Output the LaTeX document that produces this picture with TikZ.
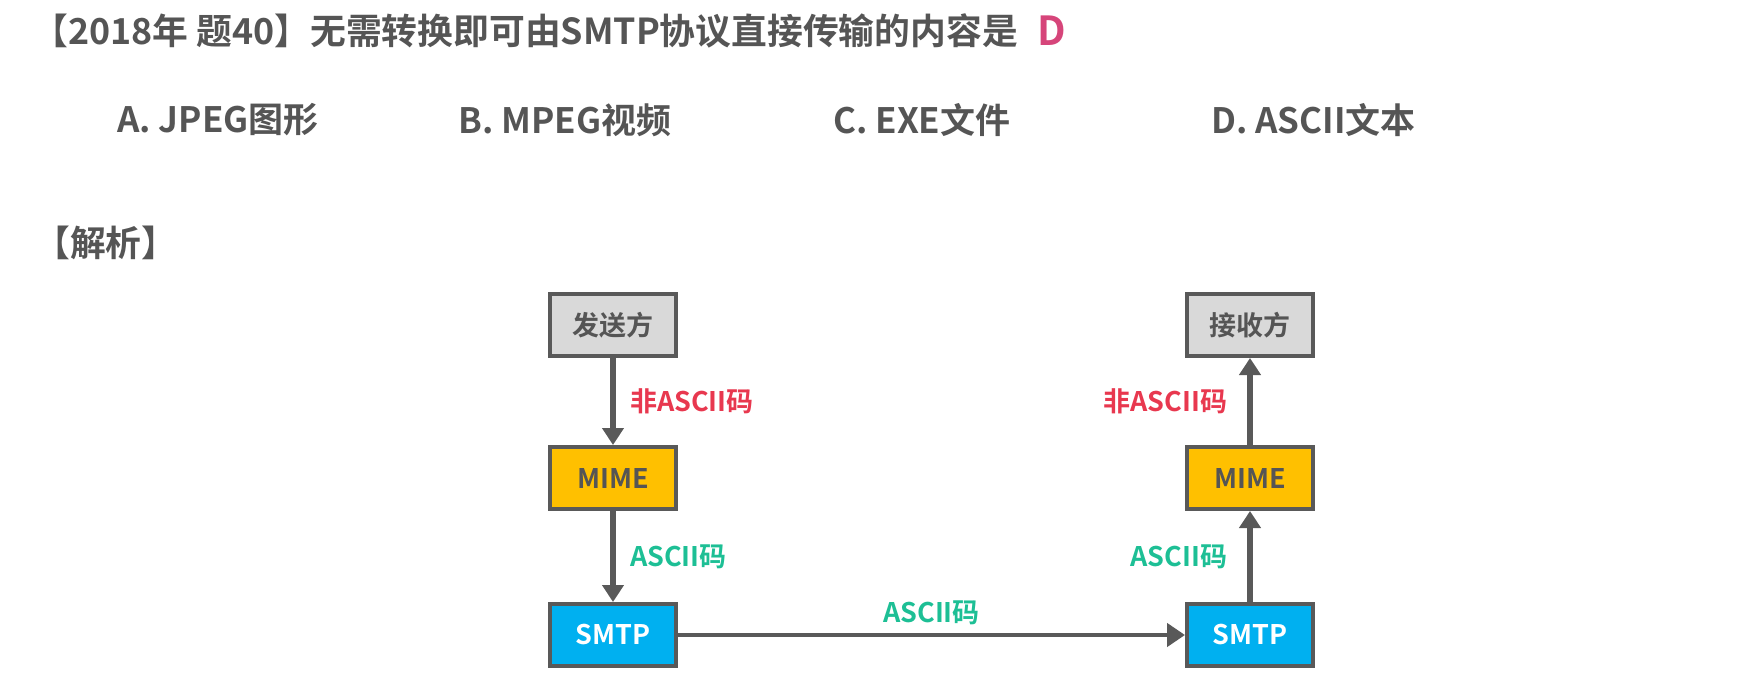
\documentclass[tikz,border=0pt]{standalone}
\usepackage{fontspec}
\setmainfont{Noto Sans CJK SC}[BoldFont={Noto Sans CJK SC Bold}]
\usepackage{xcolor}
\usepackage{tikz}
\usetikzlibrary{arrows.meta, positioning}
\definecolor{inkgray}{HTML}{555555}
\definecolor{linegray}{HTML}{595959}
\definecolor{boxgray}{HTML}{D9D9D9}
\definecolor{mimeyellow}{HTML}{FFC000}
\definecolor{smtpblue}{HTML}{00B0F0}
\definecolor{labelred}{HTML}{E8384F}
\definecolor{labelgreen}{HTML}{1DBF95}
\definecolor{answerpink}{HTML}{D6457A}

\begin{document}
\begin{tikzpicture}[
    x=1pt, y=-1pt,
    headline/.style={anchor=west, inner sep=0pt, text=inkgray, font=\fontsize{35.8}{40}\selectfont\bfseries},
    option/.style={anchor=west, inner sep=0pt, text=inkgray, font=\fontsize{35}{40}\selectfont\bfseries},
    party/.style={rectangle, draw=linegray, line width=4pt, fill=boxgray, minimum width=126pt, minimum height=62pt, text=inkgray, font=\fontsize{27}{30}\selectfont\bfseries},
    mime/.style={party, fill=mimeyellow},
    smtp/.style={party, fill=smtpblue, text=white},
    flow/.style={-{Triangle[length=17pt, width=21pt]}, line width=6pt, linegray},
    wire/.style={-{Triangle[length=18pt, width=23pt]}, line width=4.5pt, linegray},
    redtag/.style={inner sep=2pt, text=labelred, font=\fontsize{27}{30}\selectfont\bfseries},
    greentag/.style={inner sep=2pt, text=labelgreen, font=\fontsize{27}{30}\selectfont\bfseries}
]
\useasboundingbox (0,0) rectangle (1756,695);

% Question and options
\node[headline] (title) at (32,31) {【2018年 题40】无需转换即可由SMTP协议直接传输的内容是};
\node[text=answerpink, font=\fontsize{40}{44}\selectfont\bfseries, inner sep=0pt] (answer) at (1052,31) {D};
\node[option] (optA) at (117,120) {A. JPEG图形};
\node[option] (optB) at (458,120) {B. MPEG视频};
\node[option] (optC) at (833,120) {C. EXE文件};
\node[option] (optD) at (1211,120) {D. ASCII文本};
\node[headline] (analysis) at (34,243) {【解析】};

% Sender side
\node[party] (sender) at (613,325) {发送方};
\node[mime, below=87pt of sender] (mimeL) {MIME};
\node[smtp, below=91pt of mimeL] (smtpL) {SMTP};

% Receiver side
\node[smtp, right=507pt of smtpL] (smtpR) {SMTP};
\node[mime, above=91pt of smtpR] (mimeR) {MIME};
\node[party, above=87pt of mimeR] (receiver) {接收方};

% Arrows
\draw[flow] (sender) -- node[redtag, right=12pt] {非ASCII码} (mimeL);
\draw[flow] (mimeL) -- node[greentag, right=12pt] {ASCII码} (smtpL);
\draw[wire] (smtpL) -- node[greentag, above=6pt] {ASCII码} (smtpR);
\draw[flow] (smtpR) -- node[greentag, left=18pt] {ASCII码} (mimeR);
\draw[flow] (mimeR) -- node[redtag, left=18pt] {非ASCII码} (receiver);

\end{tikzpicture}
\end{document}
